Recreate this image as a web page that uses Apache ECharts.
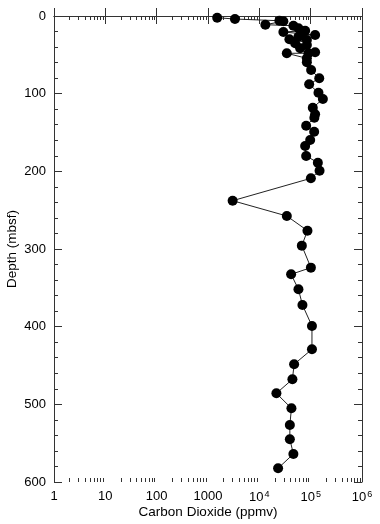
<!DOCTYPE html>
<html><head><meta charset="utf-8">
<script src="https://cdn.jsdelivr.net/npm/echarts@6/dist/echarts.min.js"></script>
<style>html,body{margin:0;padding:0;background:#fff}#c{width:380px;height:524px}</style>
</head><body><div id="c"></div>
<script>
// Depth (mbsf) of each sample
const depth = [2.2, 3.9, 6.1, 6.8, 11.2, 12.5, 15.8, 18.9, 20.6, 24.5, 24.5, 26.7, 30, 30.9, 35.1, 37.3, 41.6, 46.7, 48, 48,
  54.5, 59.6, 69.5, 80.2, 87.9, 98.8, 106.9, 118.1, 126.6, 130.9, 141.2, 149, 159.6, 167.4, 180.2, 188.9, 199.2, 209,
  237.8, 257.5, 276.4, 295.7, 324, 332.6, 351.9, 372.1, 399.1, 429.1, 448.4, 467.8, 485.8, 505.1, 526.6, 545, 563.9, 582.3];
// Carbon dioxide (ppmv) of each sample
const co2 = [1510, 3350, 24600, 29400, 13100, 46100, 57800, 78100, 29400, 122000, 67300, 57800, 38500, 84300, 49800, 84300, 62400, 122000, 90600, 34300,
  84300, 84300, 102000, 147000, 93500, 142000, 173000, 110000, 122000, 118000, 81700, 117000, 97800, 78100, 81700, 138000, 149000, 101000,
  3020, 34300, 86600, 67300, 101000, 41600, 57800, 69200, 106000, 106000, 47600, 44100, 21500, 42200, 39300, 39300, 46100, 23200];

const xTickValues = [1, 10, 100, 1000, 1e4, 1e5, 1e6];
const xTickLabels = ['1', '10', '100', '1000', '10{s|4}', '10{s|5}', '10{s|6}'];
const minorMultipliers = [2, 3, 4, 5, 6, 7, 8, 9];
const decades = [1, 10, 100, 1000, 1e4, 1e5];
const yMin = 0, yMax = 600, yStep = 100;

const minorX = [];
decades.forEach(d => minorMultipliers.forEach(m => minorX.push([m * d, yMin])));

const points = depth.map((d, i) => [co2[i], d]);
const FONT = 'Liberation Sans';
const AX = '#333';

function xLabel(v) {
  const e = Math.round(Math.log10(v));
  const idx = xTickValues.findIndex(t => Math.round(Math.log10(t)) === e);
  return idx >= 0 ? xTickLabels[idx] : '';
}

const baseX = {
  type: 'log', logBase: 10, min: 1, max: 1e6, splitNumber: 6,
  axisLine: { show: true, lineStyle: { color: AX, width: 1 } },
  axisTick: { show: true, inside: true, length: 8, lineStyle: { color: AX } },
  splitLine: { show: false }
};
const baseY = {
  type: 'value', inverse: true, min: yMin, max: yMax, interval: yStep,
  axisLine: { show: true, lineStyle: { color: AX, width: 1 } },
  axisTick: { show: true, inside: true, length: 8, lineStyle: { color: AX } },
  minorTick: { show: true, splitNumber: 5, length: 4, lineStyle: { color: AX } },
  splitLine: { show: false }
};

const chart = echarts.init(document.getElementById('c'), null, { renderer: 'canvas' });
chart.setOption({
  animation: false,
  backgroundColor: '#fff',
  grid: { left: 54, right: 18, top: 16, bottom: 42, containLabel: false, outerBoundsMode: 'none' },
  xAxis: [
    Object.assign({}, baseX, {
      position: 'bottom',
      name: 'Carbon Dioxide (ppmv)', nameLocation: 'middle', nameGap: 23, nameMoveOverlap: false,
      nameTextStyle: { fontFamily: FONT, fontSize: 13.5, color: '#000' },
      axisLabel: {
        show: true, margin: 8, color: '#000', fontFamily: FONT, fontSize: 13,
        formatter: xLabel,
        rich: { s: { fontFamily: FONT, fontSize: 9, color: '#000', padding: [0, 0, 5, 1] } }
      }
    }),
    Object.assign({}, baseX, { position: 'top', axisLabel: { show: false } })
  ],
  yAxis: [
    Object.assign({}, baseY, {
      position: 'left',
      name: 'Depth (mbsf)', nameLocation: 'middle', nameGap: 35, nameRotate: 90, nameMoveOverlap: false,
      nameTextStyle: { fontFamily: FONT, fontSize: 13.5, color: '#000' },
      axisLabel: { show: true, margin: 8, color: '#000', fontFamily: FONT, fontSize: 13 }
    }),
    Object.assign({}, baseY, { position: 'right', axisLabel: { show: false } })
  ],
  series: [
    {
      type: 'custom', xAxisIndex: 0, yAxisIndex: 0, silent: true, clip: false, z: 1,
      data: minorX, encode: { x: 0, y: 1 },
      renderItem: function (params, api) {
        const v = api.value(0);
        const t = api.coord([v, yMin]);
        const b = api.coord([v, yMax]);
        const x = Math.round(t[0]) + 0.5;
        return { type: 'group', children: [
          { type: 'line', shape: { x1: x, y1: t[1], x2: x, y2: t[1] + 4 }, style: { stroke: AX, lineWidth: 1 } },
          { type: 'line', shape: { x1: x, y1: b[1], x2: x, y2: b[1] - 4 }, style: { stroke: AX, lineWidth: 1 } }
        ] };
      }
    },
    {
      type: 'line', xAxisIndex: 0, yAxisIndex: 0, data: points, z: 3,
      symbol: 'circle', symbolSize: 10,
      itemStyle: { color: '#000' },
      lineStyle: { color: '#222', width: 1 }
    }
  ]
});
</script></body></html>
